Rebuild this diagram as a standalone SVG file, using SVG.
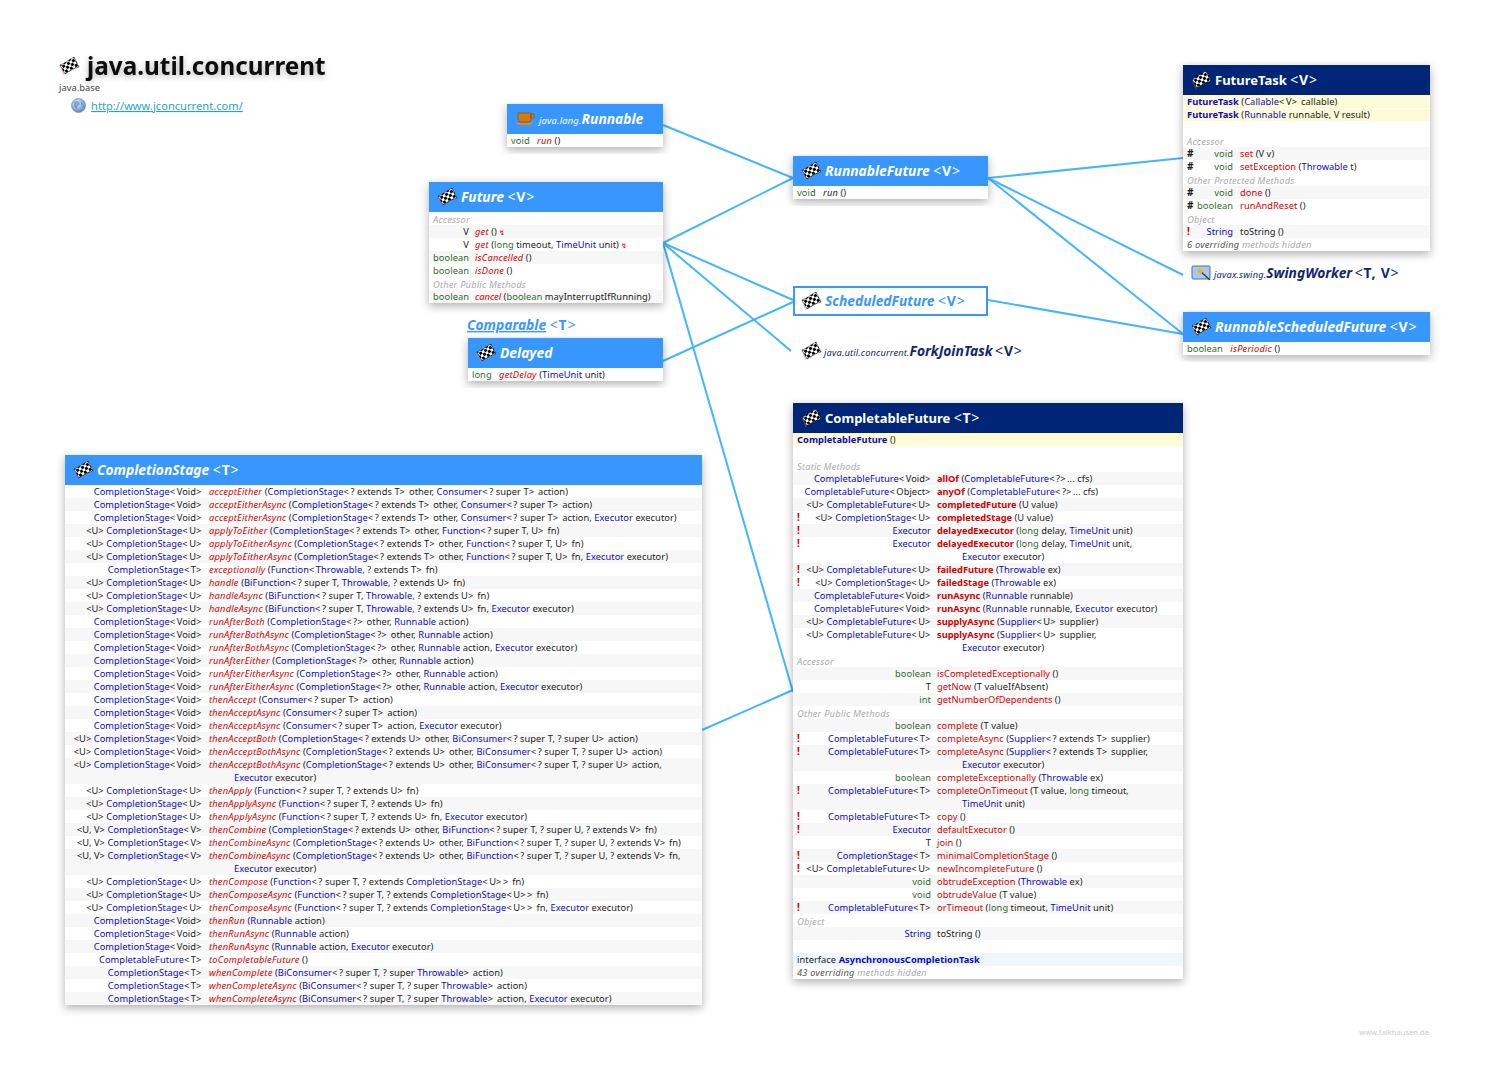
<svg xmlns="http://www.w3.org/2000/svg" width="1486" height="1078" viewBox="0 0 1486 1078">
<style>
text{font-family:"Noto Sans","Open Sans","Liberation Sans",sans-serif;font-size:9.3px;fill:#222;white-space:pre;letter-spacing:.05px}
.l{text-anchor:end}
.b{fill:#0a0ac4}
.g{fill:#2f6b2f}
.r{fill:#d40000;font-style:italic;letter-spacing:.2px}
.m{fill:#d40000}
.k{fill:#d40000;font-weight:bold;letter-spacing:-.03px}
.i{font-style:italic;letter-spacing:.15px}
.y{fill:#0a0ac4;font-weight:bold}
.e{fill:#d40000;font-weight:bold;font-size:10px}
.h{fill:#aaa;font-style:italic;letter-spacing:.2px}
.o{fill:#555;font-style:italic}
.p{letter-spacing:1.6px}
.n{font-size:10px;font-weight:bold}
.z{fill:#f7f7f7}
.t{fill:#fff;font-size:13.8px;font-weight:bold;font-style:italic;letter-spacing:0}
.u{fill:#fff;font-size:13px;font-weight:bold;letter-spacing:0}
.s{fill:#fff;font-size:9.3px;font-style:italic;font-weight:normal;letter-spacing:.2px}
.q{font-size:13.8px;font-weight:bold;font-style:italic;letter-spacing:0}
.w{font-style:normal;letter-spacing:.8px;font-size:14px}
.a{font-style:normal;font-weight:normal}
.bx{fill:#fff;filter:url(#sh)}
.hd{fill:#3797ff}
.nv{fill:#002577}
.c{fill:#fffbd6}
.cn{stroke:#45b6fb;stroke-width:2;fill:none}
</style>
<defs>
<filter id="sh" x="-10%" y="-10%" width="120%" height="125%"><feGaussianBlur in="SourceAlpha" stdDeviation="5"/><feOffset dy="3"/><feComponentTransfer><feFuncA type="linear" slope=".32"/></feComponentTransfer><feMerge><feMergeNode/><feMergeNode in="SourceGraphic"/></feMerge></filter>
<filter id="ts" x="-5%" y="-30%" width="110%" height="180%"><feGaussianBlur in="SourceAlpha" stdDeviation="3"/><feOffset dy="2"/><feComponentTransfer><feFuncA type="linear" slope=".3"/></feComponentTransfer><feMerge><feMergeNode/><feMergeNode in="SourceGraphic"/></feMerge></filter>
<pattern id="ck" width="5.6" height="5.6" patternUnits="userSpaceOnUse" patternTransform="rotate(-30)"><rect width="5.6" height="5.6" fill="#fff"/><rect width="2.8" height="2.8" fill="#000"/><rect x="2.8" y="2.8" width="2.8" height="2.8" fill="#000"/></pattern>
<symbol id="flag" viewBox="0 0 19 18" overflow="visible"><path d="M0 8C4 7 8 3 14 0L19 10C14 11 10 14 5 17Z" fill="url(#ck)" stroke="#111" stroke-width=".5"/><path d="M0 8L4 18" stroke="#c66" stroke-width=".5"/></symbol>
<radialGradient id="gl" cx=".4" cy=".35" r=".7"><stop offset="0" stop-color="#f0f6fc"/><stop offset="1" stop-color="#4a7fbe"/></radialGradient>
</defs>
<rect width="1486" height="1078" fill="#fff"/>
<g id="connectors" class="cn">
<path d="M663 125L793 178"/>
<path d="M663 243L793 178"/>
<path d="M663 243L793 300"/>
<path d="M663 243L791 351"/>
<path d="M663 243L793 692"/>
<path d="M663 361L793 302"/>
<path d="M702 730L793 690"/>
<path d="M988 178L1183 158"/>
<path d="M988 178L1183 275"/>
<path d="M988 178L1183 334"/>
<path d="M988 300L1183 334"/>
</g>
<g id="title">
<use href="#flag" x="60" y="57" width="19" height="18"/>
<text x="87" y="75" style="font-size:24.300px;font-weight:bold;fill:#111;letter-spacing:0" filter="url(#ts)">java.util.concurrent</text>
<text x="59" y="91" style="fill:#444">java.base</text>
<circle cx="78.500" cy="105.500" r="7" fill="url(#gl)" stroke="#6b8fb5" stroke-width=".7"/>
<path d="M74 102q3-2 5 0t-1 4l-2 3-2-3zM81 101l2 3-2 2z" fill="#4a7fbe" opacity=".6"/>
<text x="91" y="110" style="font-size:11.050px;fill:#2a9fd6;text-decoration:underline">http://www.jconcurrent.com/</text>
</g>
<g id="Runnable">
<rect class="bx" x="507" y="104" width="156" height="43"/>
<rect class="hd" x="507" y="104" width="156" height="30"/>
<path d="M518 113h13v6q0 3-3 3h-7q-3 0-3-3zM531 114h3v4h-3z" fill="#d9780f" stroke="#7a4a00" stroke-width=".6"/><path d="M516 123h17l-2 2h-13z" fill="#e08a1f"/>
<text x="539" y="124"><tspan class="s">java.lang.</tspan><tspan class="t">Runnable</tspan></text>
<text x="511" y="144"><tspan class="g">void</tspan>   <tspan class="r">run</tspan> ()</text>
</g>
<g id="Future">
<rect class="bx" x="429" y="182" width="234" height="121"/>
<rect class="hd" x="429" y="182" width="234" height="30"/>
<use href="#flag" x="438" y="188" width="19" height="18"/>
<text x="461" y="202" class="t">Future <tspan class="w"><tspan class="a">&lt;</tspan>V<tspan class="a">&gt;</tspan></tspan></text>
<text x="433" y="223" class="h">Accessor</text>
<rect class="z" x="429" y="225" width="234" height="13"/>
<text class="l" x="469" y="235">V</text><text x="475" y="235"><tspan class="r">get</tspan> () <tspan class="m" style="font-size:7px">↯</tspan></text>
<text class="l" x="469" y="248">V</text><text x="475" y="248"><tspan class="r">get</tspan> (<tspan class="g">long</tspan> timeout, <tspan class="b">TimeUnit</tspan> unit) <tspan class="m" style="font-size:7px">↯</tspan></text>
<rect class="z" x="429" y="251" width="234" height="13"/>
<text class="l g" x="469" y="261">boolean</text><text x="475" y="261"><tspan class="r">isCancelled</tspan> ()</text>
<text class="l g" x="469" y="274">boolean</text><text x="475" y="274"><tspan class="r">isDone</tspan> ()</text>
<text x="433" y="288" class="h">Other Public Methods</text>
<rect class="z" x="429" y="290" width="234" height="13"/>
<text class="l g" x="469" y="300">boolean</text><text x="475" y="300"><tspan class="r" style="letter-spacing:0">cancel</tspan> (<tspan class="g">boolean</tspan> mayInterruptIfRunning)</text>
</g>
<g id="Comparable">
<text x="467" y="330" style="font-size:13.800px;font-weight:bold;font-style:italic;fill:#3797ff;letter-spacing:0"><tspan text-decoration="underline">Comparable</tspan> <tspan class="w"><tspan class="a">&lt;</tspan>T<tspan class="a">&gt;</tspan></tspan></text>
</g>
<g id="Delayed">
<rect class="bx" x="468" y="338" width="195" height="43"/>
<rect class="hd" x="468" y="338" width="195" height="30"/>
<use href="#flag" x="477" y="344" width="19" height="18"/>
<text x="500" y="358" class="t">Delayed</text>
<text x="472" y="378"><tspan class="g">long</tspan>   <tspan class="r">getDelay</tspan> (<tspan class="b">TimeUnit</tspan> unit)</text>
</g>
<g id="RunnableFuture">
<rect class="bx" x="793" y="156" width="195" height="43"/>
<rect class="hd" x="793" y="156" width="195" height="30"/>
<use href="#flag" x="802" y="162" width="19" height="18"/>
<text x="825" y="176" class="t">RunnableFuture <tspan class="w"><tspan class="a">&lt;</tspan>V<tspan class="a">&gt;</tspan></tspan></text>
<text x="797" y="196"><tspan class="g">void</tspan>   <tspan class="i">run</tspan> ()</text>
</g>
<g id="ScheduledFuture">
<rect x="794" y="287" width="193" height="28" fill="#fff" stroke="#3797ff" stroke-width="2"/>
<use href="#flag" x="802" y="292" width="19" height="18"/>
<text x="825" y="306" class="t" style="fill:#3797ff">ScheduledFuture <tspan class="w"><tspan class="a">&lt;</tspan>V<tspan class="a">&gt;</tspan></tspan></text>
</g>
<g id="ForkJoinTask">
<use href="#flag" x="802" y="342" width="19" height="18"/>
<text x="824" y="356" style="fill:#12286e"><tspan class="i">java.util.concurrent.</tspan><tspan class="q">ForkJoinTask</tspan> <tspan class="q w"><tspan class="a">&lt;</tspan>V<tspan class="a">&gt;</tspan></tspan></text>
</g>
<g id="FutureTask">
<rect class="bx" x="1183" y="65" width="247" height="186"/>
<rect class="nv" x="1183" y="65" width="247" height="30"/>
<use href="#flag" x="1192" y="71" width="19" height="18"/>
<text x="1215" y="85" class="u">FutureTask <tspan class="w"><tspan class="a">&lt;</tspan>V<tspan class="a">&gt;</tspan></tspan></text>
<rect class="c" x="1183" y="95" width="247" height="13"/>
<rect class="c" x="1183" y="109" width="247" height="12"/>
<text x="1187" y="105"><tspan class="y">FutureTask</tspan> (<tspan class="b">Callable</tspan><tspan class="p">&lt;</tspan>V<tspan class="p">&gt;</tspan> callable)</text>
<text x="1187" y="118"><tspan class="y">FutureTask</tspan> (<tspan class="b">Runnable</tspan> runnable, V result)</text>
<text x="1187" y="145" class="h">Accessor</text>
<rect class="z" x="1183" y="147" width="247" height="13"/>
<text x="1187" y="157" class="n">#</text><text class="l g" x="1233" y="157">void</text><text x="1240" y="157"><tspan class="m">set</tspan> (V v)</text>
<text x="1187" y="170" class="n">#</text><text class="l g" x="1233" y="170">void</text><text x="1240" y="170"><tspan class="m">setException</tspan> (<tspan class="b">Throwable</tspan> t)</text>
<text x="1187" y="184" class="h">Other Protected Methods</text>
<rect class="z" x="1183" y="186" width="247" height="13"/>
<text x="1187" y="196" class="n">#</text><text class="l g" x="1233" y="196">void</text><text x="1240" y="196"><tspan class="m">done</tspan> ()</text>
<text x="1187" y="209" class="n">#</text><text class="l g" x="1233" y="209">boolean</text><text x="1240" y="209"><tspan class="m">runAndReset</tspan> ()</text>
<text x="1187" y="223" class="h">Object</text>
<rect class="z" x="1183" y="225" width="247" height="13"/>
<text x="1187" y="235" class="e">!</text><text class="l b" x="1233" y="235">String</text><text x="1240" y="235">toString ()</text>
<text x="1187" y="248" class="h"><tspan class="o">6 overriding</tspan> methods hidden</text>
</g>
<g id="SwingWorker">
<rect x="1192" y="266" width="18" height="13" rx="1" fill="#a9c8ee" stroke="#4a6fa5"/><path d="M1200 271l10 9" stroke="#333" stroke-width="1.200"/><circle cx="1200" cy="271" r="2.500" fill="#f5b120"/>
<text x="1214" y="278" style="fill:#12286e"><tspan class="i">javax.swing.</tspan><tspan class="q">SwingWorker</tspan> <tspan class="q w"><tspan class="a">&lt;</tspan>T, V<tspan class="a">&gt;</tspan></tspan></text>
</g>
<g id="RunnableScheduledFuture">
<rect class="bx" x="1183" y="312" width="247" height="43"/>
<rect class="hd" x="1183" y="312" width="247" height="30"/>
<use href="#flag" x="1192" y="318" width="19" height="18"/>
<text x="1215" y="332" class="t">RunnableScheduledFuture <tspan class="w"><tspan class="a">&lt;</tspan>V<tspan class="a">&gt;</tspan></tspan></text>
<text x="1187" y="352"><tspan class="g">boolean</tspan>   <tspan class="r">isPeriodic</tspan> ()</text>
</g>
<g id="CompletionStage">
<rect class="bx" x="65" y="455" width="637" height="550"/>
<rect class="hd" x="65" y="455" width="637" height="30"/>
<use href="#flag" x="74" y="461" width="19" height="18"/>
<text x="97" y="475" class="t">CompletionStage <tspan class="w"><tspan class="a">&lt;</tspan>T<tspan class="a">&gt;</tspan></tspan></text>
<g class="z"><rect x="65" y="498" width="637" height="13"/><rect x="65" y="524" width="637" height="13"/><rect x="65" y="550" width="637" height="13"/><rect x="65" y="576" width="637" height="13"/><rect x="65" y="602" width="637" height="13"/><rect x="65" y="628" width="637" height="13"/><rect x="65" y="654" width="637" height="13"/><rect x="65" y="680" width="637" height="13"/><rect x="65" y="706" width="637" height="13"/><rect x="65" y="732" width="637" height="13"/><rect x="65" y="758" width="637" height="26"/><rect x="65" y="797" width="637" height="13"/><rect x="65" y="823" width="637" height="13"/><rect x="65" y="849" width="637" height="26"/><rect x="65" y="888" width="637" height="13"/><rect x="65" y="914" width="637" height="13"/><rect x="65" y="940" width="637" height="13"/><rect x="65" y="966" width="637" height="13"/><rect x="65" y="992" width="637" height="13"/></g>
<text class="l" x="203" y="495"><tspan class="b">CompletionStage</tspan><tspan class="p">&lt;</tspan>Void<tspan class="p">&gt;</tspan></text><text x="209" y="495"><tspan class="r">acceptEither</tspan> (<tspan class="b">CompletionStage</tspan><tspan class="p">&lt;</tspan>? extends T<tspan class="p">&gt;</tspan> other, <tspan class="b">Consumer</tspan><tspan class="p">&lt;</tspan>? super T<tspan class="p">&gt;</tspan> action)</text>
<text class="l" x="203" y="508"><tspan class="b">CompletionStage</tspan><tspan class="p">&lt;</tspan>Void<tspan class="p">&gt;</tspan></text><text x="209" y="508"><tspan class="r">acceptEitherAsync</tspan> (<tspan class="b">CompletionStage</tspan><tspan class="p">&lt;</tspan>? extends T<tspan class="p">&gt;</tspan> other, <tspan class="b">Consumer</tspan><tspan class="p">&lt;</tspan>? super T<tspan class="p">&gt;</tspan> action)</text>
<text class="l" x="203" y="521"><tspan class="b">CompletionStage</tspan><tspan class="p">&lt;</tspan>Void<tspan class="p">&gt;</tspan></text><text x="209" y="521"><tspan class="r">acceptEitherAsync</tspan> (<tspan class="b">CompletionStage</tspan><tspan class="p">&lt;</tspan>? extends T<tspan class="p">&gt;</tspan> other, <tspan class="b">Consumer</tspan><tspan class="p">&lt;</tspan>? super T<tspan class="p">&gt;</tspan> action, <tspan class="b">Executor</tspan> executor)</text>
<text class="l" x="203" y="534">&lt;U&gt; <tspan class="b">CompletionStage</tspan><tspan class="p">&lt;</tspan>U<tspan class="p">&gt;</tspan></text><text x="209" y="534"><tspan class="r">applyToEither</tspan> (<tspan class="b">CompletionStage</tspan><tspan class="p">&lt;</tspan>? extends T<tspan class="p">&gt;</tspan> other, <tspan class="b">Function</tspan><tspan class="p">&lt;</tspan>? super T, U<tspan class="p">&gt;</tspan> fn)</text>
<text class="l" x="203" y="547">&lt;U&gt; <tspan class="b">CompletionStage</tspan><tspan class="p">&lt;</tspan>U<tspan class="p">&gt;</tspan></text><text x="209" y="547"><tspan class="r">applyToEitherAsync</tspan> (<tspan class="b">CompletionStage</tspan><tspan class="p">&lt;</tspan>? extends T<tspan class="p">&gt;</tspan> other, <tspan class="b">Function</tspan><tspan class="p">&lt;</tspan>? super T, U<tspan class="p">&gt;</tspan> fn)</text>
<text class="l" x="203" y="560">&lt;U&gt; <tspan class="b">CompletionStage</tspan><tspan class="p">&lt;</tspan>U<tspan class="p">&gt;</tspan></text><text x="209" y="560"><tspan class="r">applyToEitherAsync</tspan> (<tspan class="b">CompletionStage</tspan><tspan class="p">&lt;</tspan>? extends T<tspan class="p">&gt;</tspan> other, <tspan class="b">Function</tspan><tspan class="p">&lt;</tspan>? super T, U<tspan class="p">&gt;</tspan> fn, <tspan class="b">Executor</tspan> executor)</text>
<text class="l" x="203" y="573"><tspan class="b">CompletionStage</tspan><tspan class="p">&lt;</tspan>T<tspan class="p">&gt;</tspan></text><text x="209" y="573"><tspan class="r">exceptionally</tspan> (<tspan class="b">Function</tspan><tspan class="p">&lt;</tspan><tspan class="b">Throwable</tspan>, ? extends T<tspan class="p">&gt;</tspan> fn)</text>
<text class="l" x="203" y="586">&lt;U&gt; <tspan class="b">CompletionStage</tspan><tspan class="p">&lt;</tspan>U<tspan class="p">&gt;</tspan></text><text x="209" y="586"><tspan class="r">handle</tspan> (<tspan class="b">BiFunction</tspan><tspan class="p">&lt;</tspan>? super T, <tspan class="b">Throwable</tspan>, ? extends U<tspan class="p">&gt;</tspan> fn)</text>
<text class="l" x="203" y="599">&lt;U&gt; <tspan class="b">CompletionStage</tspan><tspan class="p">&lt;</tspan>U<tspan class="p">&gt;</tspan></text><text x="209" y="599"><tspan class="r">handleAsync</tspan> (<tspan class="b">BiFunction</tspan><tspan class="p">&lt;</tspan>? super T, <tspan class="b">Throwable</tspan>, ? extends U<tspan class="p">&gt;</tspan> fn)</text>
<text class="l" x="203" y="612">&lt;U&gt; <tspan class="b">CompletionStage</tspan><tspan class="p">&lt;</tspan>U<tspan class="p">&gt;</tspan></text><text x="209" y="612"><tspan class="r">handleAsync</tspan> (<tspan class="b">BiFunction</tspan><tspan class="p">&lt;</tspan>? super T, <tspan class="b">Throwable</tspan>, ? extends U<tspan class="p">&gt;</tspan> fn, <tspan class="b">Executor</tspan> executor)</text>
<text class="l" x="203" y="625"><tspan class="b">CompletionStage</tspan><tspan class="p">&lt;</tspan>Void<tspan class="p">&gt;</tspan></text><text x="209" y="625"><tspan class="r">runAfterBoth</tspan> (<tspan class="b">CompletionStage</tspan><tspan class="p">&lt;</tspan>?<tspan class="p">&gt;</tspan> other, <tspan class="b">Runnable</tspan> action)</text>
<text class="l" x="203" y="638"><tspan class="b">CompletionStage</tspan><tspan class="p">&lt;</tspan>Void<tspan class="p">&gt;</tspan></text><text x="209" y="638"><tspan class="r">runAfterBothAsync</tspan> (<tspan class="b">CompletionStage</tspan><tspan class="p">&lt;</tspan>?<tspan class="p">&gt;</tspan> other, <tspan class="b">Runnable</tspan> action)</text>
<text class="l" x="203" y="651"><tspan class="b">CompletionStage</tspan><tspan class="p">&lt;</tspan>Void<tspan class="p">&gt;</tspan></text><text x="209" y="651"><tspan class="r">runAfterBothAsync</tspan> (<tspan class="b">CompletionStage</tspan><tspan class="p">&lt;</tspan>?<tspan class="p">&gt;</tspan> other, <tspan class="b">Runnable</tspan> action, <tspan class="b">Executor</tspan> executor)</text>
<text class="l" x="203" y="664"><tspan class="b">CompletionStage</tspan><tspan class="p">&lt;</tspan>Void<tspan class="p">&gt;</tspan></text><text x="209" y="664"><tspan class="r">runAfterEither</tspan> (<tspan class="b">CompletionStage</tspan><tspan class="p">&lt;</tspan>?<tspan class="p">&gt;</tspan> other, <tspan class="b">Runnable</tspan> action)</text>
<text class="l" x="203" y="677"><tspan class="b">CompletionStage</tspan><tspan class="p">&lt;</tspan>Void<tspan class="p">&gt;</tspan></text><text x="209" y="677"><tspan class="r">runAfterEitherAsync</tspan> (<tspan class="b">CompletionStage</tspan><tspan class="p">&lt;</tspan>?<tspan class="p">&gt;</tspan> other, <tspan class="b">Runnable</tspan> action)</text>
<text class="l" x="203" y="690"><tspan class="b">CompletionStage</tspan><tspan class="p">&lt;</tspan>Void<tspan class="p">&gt;</tspan></text><text x="209" y="690"><tspan class="r">runAfterEitherAsync</tspan> (<tspan class="b">CompletionStage</tspan><tspan class="p">&lt;</tspan>?<tspan class="p">&gt;</tspan> other, <tspan class="b">Runnable</tspan> action, <tspan class="b">Executor</tspan> executor)</text>
<text class="l" x="203" y="703"><tspan class="b">CompletionStage</tspan><tspan class="p">&lt;</tspan>Void<tspan class="p">&gt;</tspan></text><text x="209" y="703"><tspan class="r">thenAccept</tspan> (<tspan class="b">Consumer</tspan><tspan class="p">&lt;</tspan>? super T<tspan class="p">&gt;</tspan> action)</text>
<text class="l" x="203" y="716"><tspan class="b">CompletionStage</tspan><tspan class="p">&lt;</tspan>Void<tspan class="p">&gt;</tspan></text><text x="209" y="716"><tspan class="r">thenAcceptAsync</tspan> (<tspan class="b">Consumer</tspan><tspan class="p">&lt;</tspan>? super T<tspan class="p">&gt;</tspan> action)</text>
<text class="l" x="203" y="729"><tspan class="b">CompletionStage</tspan><tspan class="p">&lt;</tspan>Void<tspan class="p">&gt;</tspan></text><text x="209" y="729"><tspan class="r">thenAcceptAsync</tspan> (<tspan class="b">Consumer</tspan><tspan class="p">&lt;</tspan>? super T<tspan class="p">&gt;</tspan> action, <tspan class="b">Executor</tspan> executor)</text>
<text class="l" x="203" y="742">&lt;U&gt; <tspan class="b">CompletionStage</tspan><tspan class="p">&lt;</tspan>Void<tspan class="p">&gt;</tspan></text><text x="209" y="742"><tspan class="r">thenAcceptBoth</tspan> (<tspan class="b">CompletionStage</tspan><tspan class="p">&lt;</tspan>? extends U<tspan class="p">&gt;</tspan> other, <tspan class="b">BiConsumer</tspan><tspan class="p">&lt;</tspan>? super T, ? super U<tspan class="p">&gt;</tspan> action)</text>
<text class="l" x="203" y="755">&lt;U&gt; <tspan class="b">CompletionStage</tspan><tspan class="p">&lt;</tspan>Void<tspan class="p">&gt;</tspan></text><text x="209" y="755"><tspan class="r">thenAcceptBothAsync</tspan> (<tspan class="b">CompletionStage</tspan><tspan class="p">&lt;</tspan>? extends U<tspan class="p">&gt;</tspan> other, <tspan class="b">BiConsumer</tspan><tspan class="p">&lt;</tspan>? super T, ? super U<tspan class="p">&gt;</tspan> action)</text>
<text class="l" x="203" y="768">&lt;U&gt; <tspan class="b">CompletionStage</tspan><tspan class="p">&lt;</tspan>Void<tspan class="p">&gt;</tspan></text><text x="209" y="768"><tspan class="r">thenAcceptBothAsync</tspan> (<tspan class="b">CompletionStage</tspan><tspan class="p">&lt;</tspan>? extends U<tspan class="p">&gt;</tspan> other, <tspan class="b">BiConsumer</tspan><tspan class="p">&lt;</tspan>? super T, ? super U<tspan class="p">&gt;</tspan> action,</text>
<text x="234" y="781"><tspan class="b">Executor</tspan> executor)</text>
<text class="l" x="203" y="794">&lt;U&gt; <tspan class="b">CompletionStage</tspan><tspan class="p">&lt;</tspan>U<tspan class="p">&gt;</tspan></text><text x="209" y="794"><tspan class="r">thenApply</tspan> (<tspan class="b">Function</tspan><tspan class="p">&lt;</tspan>? super T, ? extends U<tspan class="p">&gt;</tspan> fn)</text>
<text class="l" x="203" y="807">&lt;U&gt; <tspan class="b">CompletionStage</tspan><tspan class="p">&lt;</tspan>U<tspan class="p">&gt;</tspan></text><text x="209" y="807"><tspan class="r">thenApplyAsync</tspan> (<tspan class="b">Function</tspan><tspan class="p">&lt;</tspan>? super T, ? extends U<tspan class="p">&gt;</tspan> fn)</text>
<text class="l" x="203" y="820">&lt;U&gt; <tspan class="b">CompletionStage</tspan><tspan class="p">&lt;</tspan>U<tspan class="p">&gt;</tspan></text><text x="209" y="820"><tspan class="r">thenApplyAsync</tspan> (<tspan class="b">Function</tspan><tspan class="p">&lt;</tspan>? super T, ? extends U<tspan class="p">&gt;</tspan> fn, <tspan class="b">Executor</tspan> executor)</text>
<text class="l" x="203" y="833">&lt;U, V&gt; <tspan class="b">CompletionStage</tspan><tspan class="p">&lt;</tspan>V<tspan class="p">&gt;</tspan></text><text x="209" y="833"><tspan class="r">thenCombine</tspan> (<tspan class="b">CompletionStage</tspan><tspan class="p">&lt;</tspan>? extends U<tspan class="p">&gt;</tspan> other, <tspan class="b">BiFunction</tspan><tspan class="p">&lt;</tspan>? super T, ? super U, ? extends V<tspan class="p">&gt;</tspan> fn)</text>
<text class="l" x="203" y="846">&lt;U, V&gt; <tspan class="b">CompletionStage</tspan><tspan class="p">&lt;</tspan>V<tspan class="p">&gt;</tspan></text><text x="209" y="846"><tspan class="r">thenCombineAsync</tspan> (<tspan class="b">CompletionStage</tspan><tspan class="p">&lt;</tspan>? extends U<tspan class="p">&gt;</tspan> other, <tspan class="b">BiFunction</tspan><tspan class="p">&lt;</tspan>? super T, ? super U, ? extends V<tspan class="p">&gt;</tspan> fn)</text>
<text class="l" x="203" y="859">&lt;U, V&gt; <tspan class="b">CompletionStage</tspan><tspan class="p">&lt;</tspan>V<tspan class="p">&gt;</tspan></text><text x="209" y="859"><tspan class="r">thenCombineAsync</tspan> (<tspan class="b">CompletionStage</tspan><tspan class="p">&lt;</tspan>? extends U<tspan class="p">&gt;</tspan> other, <tspan class="b">BiFunction</tspan><tspan class="p">&lt;</tspan>? super T, ? super U, ? extends V<tspan class="p">&gt;</tspan> fn,</text>
<text x="234" y="872"><tspan class="b">Executor</tspan> executor)</text>
<text class="l" x="203" y="885">&lt;U&gt; <tspan class="b">CompletionStage</tspan><tspan class="p">&lt;</tspan>U<tspan class="p">&gt;</tspan></text><text x="209" y="885"><tspan class="r">thenCompose</tspan> (<tspan class="b">Function</tspan><tspan class="p">&lt;</tspan>? super T, ? extends <tspan class="b">CompletionStage</tspan><tspan class="p">&lt;</tspan>U<tspan class="p">&gt;&gt;</tspan> fn)</text>
<text class="l" x="203" y="898">&lt;U&gt; <tspan class="b">CompletionStage</tspan><tspan class="p">&lt;</tspan>U<tspan class="p">&gt;</tspan></text><text x="209" y="898"><tspan class="r">thenComposeAsync</tspan> (<tspan class="b">Function</tspan><tspan class="p">&lt;</tspan>? super T, ? extends <tspan class="b">CompletionStage</tspan><tspan class="p">&lt;</tspan>U<tspan class="p">&gt;&gt;</tspan> fn)</text>
<text class="l" x="203" y="911">&lt;U&gt; <tspan class="b">CompletionStage</tspan><tspan class="p">&lt;</tspan>U<tspan class="p">&gt;</tspan></text><text x="209" y="911"><tspan class="r">thenComposeAsync</tspan> (<tspan class="b">Function</tspan><tspan class="p">&lt;</tspan>? super T, ? extends <tspan class="b">CompletionStage</tspan><tspan class="p">&lt;</tspan>U<tspan class="p">&gt;&gt;</tspan> fn, <tspan class="b">Executor</tspan> executor)</text>
<text class="l" x="203" y="924"><tspan class="b">CompletionStage</tspan><tspan class="p">&lt;</tspan>Void<tspan class="p">&gt;</tspan></text><text x="209" y="924"><tspan class="r">thenRun</tspan> (<tspan class="b">Runnable</tspan> action)</text>
<text class="l" x="203" y="937"><tspan class="b">CompletionStage</tspan><tspan class="p">&lt;</tspan>Void<tspan class="p">&gt;</tspan></text><text x="209" y="937"><tspan class="r">thenRunAsync</tspan> (<tspan class="b">Runnable</tspan> action)</text>
<text class="l" x="203" y="950"><tspan class="b">CompletionStage</tspan><tspan class="p">&lt;</tspan>Void<tspan class="p">&gt;</tspan></text><text x="209" y="950"><tspan class="r">thenRunAsync</tspan> (<tspan class="b">Runnable</tspan> action, <tspan class="b">Executor</tspan> executor)</text>
<text class="l" x="203" y="963"><tspan class="b">CompletableFuture</tspan><tspan class="p">&lt;</tspan>T<tspan class="p">&gt;</tspan></text><text x="209" y="963"><tspan class="r">toCompletableFuture</tspan> ()</text>
<text class="l" x="203" y="976"><tspan class="b">CompletionStage</tspan><tspan class="p">&lt;</tspan>T<tspan class="p">&gt;</tspan></text><text x="209" y="976"><tspan class="r">whenComplete</tspan> (<tspan class="b">BiConsumer</tspan><tspan class="p">&lt;</tspan>? super T, ? super <tspan class="b">Throwable</tspan><tspan class="p">&gt;</tspan> action)</text>
<text class="l" x="203" y="989"><tspan class="b">CompletionStage</tspan><tspan class="p">&lt;</tspan>T<tspan class="p">&gt;</tspan></text><text x="209" y="989"><tspan class="r">whenCompleteAsync</tspan> (<tspan class="b">BiConsumer</tspan><tspan class="p">&lt;</tspan>? super T, ? super <tspan class="b">Throwable</tspan><tspan class="p">&gt;</tspan> action)</text>
<text class="l" x="203" y="1002"><tspan class="b">CompletionStage</tspan><tspan class="p">&lt;</tspan>T<tspan class="p">&gt;</tspan></text><text x="209" y="1002"><tspan class="r">whenCompleteAsync</tspan> (<tspan class="b">BiConsumer</tspan><tspan class="p">&lt;</tspan>? super T, ? super <tspan class="b">Throwable</tspan><tspan class="p">&gt;</tspan> action, <tspan class="b">Executor</tspan> executor)</text>
</g>
<g id="CompletableFuture">
<rect class="bx" x="793" y="403" width="390" height="576"/>
<rect class="nv" x="793" y="403" width="390" height="30"/>
<use href="#flag" x="802" y="409" width="19" height="18"/>
<text x="825" y="423" class="u">CompletableFuture <tspan class="w"><tspan class="a">&lt;</tspan>T<tspan class="a">&gt;</tspan></tspan></text>
<rect class="c" x="793" y="433" width="390" height="13"/>
<text x="797" y="443"><tspan class="y">CompletableFuture</tspan> ()</text>
<text x="797" y="470" class="h">Static Methods</text>
<g class="z"><rect x="793" y="472" width="390" height="13"/><rect x="793" y="498" width="390" height="13"/><rect x="793" y="524" width="390" height="13"/><rect x="793" y="563" width="390" height="13"/><rect x="793" y="589" width="390" height="13"/><rect x="793" y="615" width="390" height="13"/><rect x="793" y="667" width="390" height="13"/><rect x="793" y="693" width="390" height="13"/><rect x="793" y="719" width="390" height="13"/><rect x="793" y="745" width="390" height="26"/><rect x="793" y="784" width="390" height="26"/><rect x="793" y="823" width="390" height="13"/><rect x="793" y="849" width="390" height="13"/><rect x="793" y="875" width="390" height="13"/><rect x="793" y="901" width="390" height="13"/><rect x="793" y="927" width="390" height="13"/></g>
<rect x="793" y="953" width="390" height="13" fill="#eef6ff"/>
<text class="l" x="932" y="482"><tspan class="b">CompletableFuture</tspan><tspan class="p">&lt;</tspan>Void<tspan class="p">&gt;</tspan></text><text x="937" y="482"><tspan class="k">allOf</tspan> (<tspan class="b">CompletableFuture</tspan><tspan class="p">&lt;</tspan>?<tspan class="p">&gt;</tspan>... cfs)</text>
<text class="l" x="932" y="495"><tspan class="b">CompletableFuture</tspan><tspan class="p">&lt;</tspan>Object<tspan class="p">&gt;</tspan></text><text x="937" y="495"><tspan class="k">anyOf</tspan> (<tspan class="b">CompletableFuture</tspan><tspan class="p">&lt;</tspan>?<tspan class="p">&gt;</tspan>... cfs)</text>
<text class="l" x="932" y="508">&lt;U&gt; <tspan class="b">CompletableFuture</tspan><tspan class="p">&lt;</tspan>U<tspan class="p">&gt;</tspan></text><text x="937" y="508"><tspan class="k">completedFuture</tspan> (U value)</text>
<text x="797" y="521" class="e">!</text><text class="l" x="932" y="521">&lt;U&gt; <tspan class="b">CompletionStage</tspan><tspan class="p">&lt;</tspan>U<tspan class="p">&gt;</tspan></text><text x="937" y="521"><tspan class="k">completedStage</tspan> (U value)</text>
<text x="797" y="534" class="e">!</text><text class="l b" x="931" y="534">Executor</text><text x="937" y="534"><tspan class="k">delayedExecutor</tspan> (<tspan class="g">long</tspan> delay, <tspan class="b">TimeUnit</tspan> unit)</text>
<text x="797" y="547" class="e">!</text><text class="l b" x="931" y="547">Executor</text><text x="937" y="547"><tspan class="k">delayedExecutor</tspan> (<tspan class="g">long</tspan> delay, <tspan class="b">TimeUnit</tspan> unit,</text>
<text x="962" y="560"><tspan class="b">Executor</tspan> executor)</text>
<text x="797" y="573" class="e">!</text><text class="l" x="932" y="573">&lt;U&gt; <tspan class="b">CompletableFuture</tspan><tspan class="p">&lt;</tspan>U<tspan class="p">&gt;</tspan></text><text x="937" y="573"><tspan class="k">failedFuture</tspan> (<tspan class="b">Throwable</tspan> ex)</text>
<text x="797" y="586" class="e">!</text><text class="l" x="932" y="586">&lt;U&gt; <tspan class="b">CompletionStage</tspan><tspan class="p">&lt;</tspan>U<tspan class="p">&gt;</tspan></text><text x="937" y="586"><tspan class="k">failedStage</tspan> (<tspan class="b">Throwable</tspan> ex)</text>
<text class="l" x="932" y="599"><tspan class="b">CompletableFuture</tspan><tspan class="p">&lt;</tspan>Void<tspan class="p">&gt;</tspan></text><text x="937" y="599"><tspan class="k">runAsync</tspan> (<tspan class="b">Runnable</tspan> runnable)</text>
<text class="l" x="932" y="612"><tspan class="b">CompletableFuture</tspan><tspan class="p">&lt;</tspan>Void<tspan class="p">&gt;</tspan></text><text x="937" y="612"><tspan class="k">runAsync</tspan> (<tspan class="b">Runnable</tspan> runnable, <tspan class="b">Executor</tspan> executor)</text>
<text class="l" x="932" y="625">&lt;U&gt; <tspan class="b">CompletableFuture</tspan><tspan class="p">&lt;</tspan>U<tspan class="p">&gt;</tspan></text><text x="937" y="625"><tspan class="k">supplyAsync</tspan> (<tspan class="b">Supplier</tspan><tspan class="p">&lt;</tspan>U<tspan class="p">&gt;</tspan> supplier)</text>
<text class="l" x="932" y="638">&lt;U&gt; <tspan class="b">CompletableFuture</tspan><tspan class="p">&lt;</tspan>U<tspan class="p">&gt;</tspan></text><text x="937" y="638"><tspan class="k">supplyAsync</tspan> (<tspan class="b">Supplier</tspan><tspan class="p">&lt;</tspan>U<tspan class="p">&gt;</tspan> supplier,</text>
<text x="962" y="651"><tspan class="b">Executor</tspan> executor)</text>
<text x="797" y="665" class="h">Accessor</text>
<text class="l g" x="931" y="677">boolean</text><text x="937" y="677"><tspan class="m">isCompletedExceptionally</tspan> ()</text>
<text class="l" x="931" y="690">T</text><text x="937" y="690"><tspan class="m">getNow</tspan> (T valueIfAbsent)</text>
<text class="l g" x="931" y="703">int</text><text x="937" y="703"><tspan class="m">getNumberOfDependents</tspan> ()</text>
<text x="797" y="717" class="h">Other Public Methods</text>
<text class="l g" x="931" y="729">boolean</text><text x="937" y="729"><tspan class="m">complete</tspan> (T value)</text>
<text x="797" y="742" class="e">!</text><text class="l" x="932" y="742"><tspan class="b">CompletableFuture</tspan><tspan class="p">&lt;</tspan>T<tspan class="p">&gt;</tspan></text><text x="937" y="742"><tspan class="m">completeAsync</tspan> (<tspan class="b">Supplier</tspan><tspan class="p">&lt;</tspan>? extends T<tspan class="p">&gt;</tspan> supplier)</text>
<text x="797" y="755" class="e">!</text><text class="l" x="932" y="755"><tspan class="b">CompletableFuture</tspan><tspan class="p">&lt;</tspan>T<tspan class="p">&gt;</tspan></text><text x="937" y="755"><tspan class="m">completeAsync</tspan> (<tspan class="b">Supplier</tspan><tspan class="p">&lt;</tspan>? extends T<tspan class="p">&gt;</tspan> supplier,</text>
<text x="962" y="768"><tspan class="b">Executor</tspan> executor)</text>
<text class="l g" x="931" y="781">boolean</text><text x="937" y="781"><tspan class="m">completeExceptionally</tspan> (<tspan class="b">Throwable</tspan> ex)</text>
<text x="797" y="794" class="e">!</text><text class="l" x="932" y="794"><tspan class="b">CompletableFuture</tspan><tspan class="p">&lt;</tspan>T<tspan class="p">&gt;</tspan></text><text x="937" y="794"><tspan class="m">completeOnTimeout</tspan> (T value, <tspan class="g">long</tspan> timeout,</text>
<text x="962" y="807"><tspan class="b">TimeUnit</tspan> unit)</text>
<text x="797" y="820" class="e">!</text><text class="l" x="932" y="820"><tspan class="b">CompletableFuture</tspan><tspan class="p">&lt;</tspan>T<tspan class="p">&gt;</tspan></text><text x="937" y="820"><tspan class="m">copy</tspan> ()</text>
<text x="797" y="833" class="e">!</text><text class="l b" x="931" y="833">Executor</text><text x="937" y="833"><tspan class="m">defaultExecutor</tspan> ()</text>
<text class="l" x="931" y="846">T</text><text x="937" y="846"><tspan class="m">join</tspan> ()</text>
<text x="797" y="859" class="e">!</text><text class="l" x="932" y="859"><tspan class="b">CompletionStage</tspan><tspan class="p">&lt;</tspan>T<tspan class="p">&gt;</tspan></text><text x="937" y="859"><tspan class="m">minimalCompletionStage</tspan> ()</text>
<text x="797" y="872" class="e">!</text><text class="l" x="932" y="872">&lt;U&gt; <tspan class="b">CompletableFuture</tspan><tspan class="p">&lt;</tspan>U<tspan class="p">&gt;</tspan></text><text x="937" y="872"><tspan class="m">newIncompleteFuture</tspan> ()</text>
<text class="l g" x="931" y="885">void</text><text x="937" y="885"><tspan class="m">obtrudeException</tspan> (<tspan class="b">Throwable</tspan> ex)</text>
<text class="l g" x="931" y="898">void</text><text x="937" y="898"><tspan class="m">obtrudeValue</tspan> (T value)</text>
<text x="797" y="911" class="e">!</text><text class="l" x="932" y="911"><tspan class="b">CompletableFuture</tspan><tspan class="p">&lt;</tspan>T<tspan class="p">&gt;</tspan></text><text x="937" y="911"><tspan class="m">orTimeout</tspan> (<tspan class="g">long</tspan> timeout, <tspan class="b">TimeUnit</tspan> unit)</text>
<text x="797" y="925" class="h">Object</text>
<text class="l b" x="931" y="937">String</text><text x="937" y="937">toString ()</text>
<text x="797" y="963">interface <tspan class="y">AsynchronousCompletionTask</tspan></text>
<text x="797" y="976" class="h"><tspan class="o">43 overriding</tspan> methods hidden</text>
</g>
<text id="credit" x="1429" y="1035" class="l" style="font-size:7.500px;fill:#ccc">www.falkhausen.de</text>
</svg>
